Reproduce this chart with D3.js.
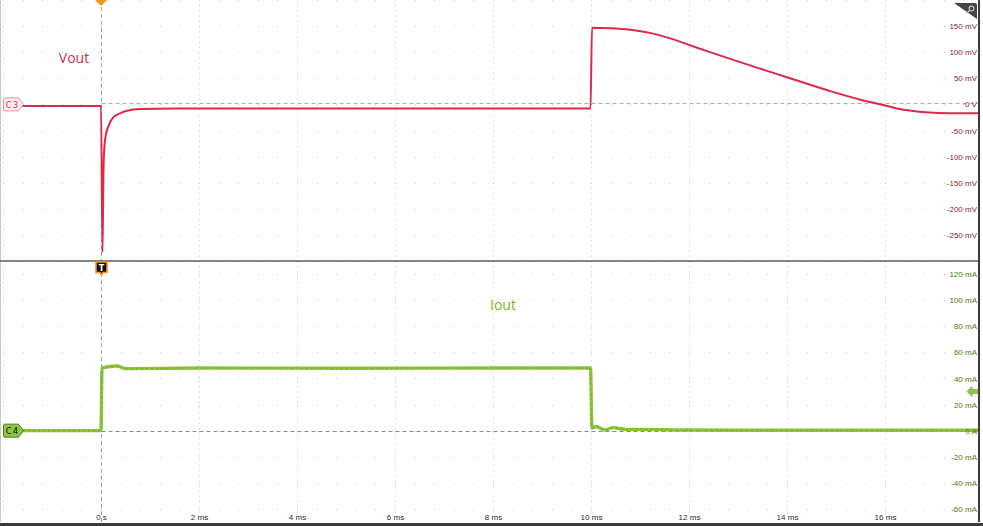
<!DOCTYPE html>
<html>
<head>
<meta charset="utf-8">
<script src="https://cdn.jsdelivr.net/npm/d3@7"></script>
<style>
body { margin: 0; background: #fff; }
svg { display: block; }
.tick text { font-family: "Liberation Sans", Arial, sans-serif; font-size: 8px; }
.label { font-family: "Open Sans", "Noto Sans", sans-serif; font-size: 14px; }
</style>
</head>
<body>
<div class="container"></div>
<script>
// C3 (Vout) trace, time in ms, value in mV
var voutTime = [-2, -1, 0, 0.03, 0.05, 0.07, 0.1, 0.15, 0.24, 0.39, 0.53, 0.8, 1.5, 3, 6, 9.99,
    10.02, 10.4, 10.8, 11.2, 11.6, 12, 12.4, 13.4, 14, 14.9, 15.5, 16, 16.3, 16.7, 17.1, 17.5, 18];
var voutMv = [-3, -3, -3, -283, -130, -80, -58, -42, -26, -17, -12, -9, -8, -8, -8, -8,
    147, 146, 143, 137, 127, 114, 101, 70, 52, 25, 9, -2, -9, -14, -16.5, -17, -17];

// C4 (Iout) trace, time in ms, value in mA
var ioutTime = [-2, 0, 0.02, 0.33, 0.5, 2, 5, 8, 9.99, 10.02, 10.1, 10.29, 10.45, 10.7, 11, 12, 14, 18];
var ioutMa = [0, 0, 48, 49.5, 47.5, 48, 47.8, 48, 48, 2, 3.2, 0.5, 2.3, 1, 1, 0.5, 0.3, 0.3];

var timeTicks = [0, 2, 4, 6, 8, 10, 12, 14, 16];
var voltTicks = [150, 100, 50, 0, -50, -100, -150, -200, -250];
var currentTicks = [120, 100, 80, 60, 40, 20, 0, -20, -40, -60];
var triggerLevel = 30; // mA

var width = 983;
var height = 526;
var screenRight = 979;
var screenBottom = 522;
var divider = 261;

var XScale = d3.scaleLinear().domain([-2, 18]).range([3, 983]);
var VScale = d3.scaleLinear().domain([-300, 200]).range([divider, 0]);
var IScale = d3.scaleLinear().domain([-70, 130]).range([screenBottom, divider]);

var voutLine = d3.line()
    .x(function(d, i) { return XScale(voutTime[i]); })
    .y(function(d) { return VScale(d); })
    .curve(d3.curveMonotoneX);

var ioutLine = d3.line()
    .x(function(d, i) { return XScale(ioutTime[i]); })
    .y(function(d) { return IScale(d); })
    .curve(d3.curveMonotoneX);

var translate = function(x, y) {
    return 'translate(' + x + ',' + y + ')';
};

var svg = d3.select('.container').append('svg')
    .attr('width', width)
    .attr('height', height);

svg.append('clipPath').attr('id', 'screen')
    .append('rect').attr('x', 0).attr('y', 0)
    .attr('width', screenRight).attr('height', screenBottom);

// grid: minor dots on each division row, dense dots on major columns
var grid = svg.append('g').attr('clip-path', 'url(#screen)');
var minorX = d3.range(0, 51).map(function(k) { return -2 + k * 0.4; });
var rowsY = d3.range(-300, 201, 50).map(VScale)
    .concat(d3.range(-60, 121, 20).map(IScale));

rowsY.forEach(function(y) {
    grid.selectAll(null).data(minorX).enter().append('rect')
        .attr('x', function(d) { return Math.round(XScale(d)); })
        .attr('y', Math.round(y))
        .attr('width', 1).attr('height', 1)
        .attr('fill', '#c4c4c4');
});

grid.selectAll('.major').data(d3.range(-2, 18, 2).filter(function(d) { return d !== 0; }))
    .enter().append('line')
    .attr('x1', function(d) { return Math.round(XScale(d)) + 0.5; })
    .attr('x2', function(d) { return Math.round(XScale(d)) + 0.5; })
    .attr('y1', 0).attr('y2', screenBottom - 8)
    .attr('stroke', '#c8c8c8')
    .attr('stroke-dasharray', '1,4.22');

// channel offset and trigger reference lines
var x0 = Math.round(XScale(0)) + 0.5;
grid.append('line')
    .attr('x1', x0).attr('x2', screenRight)
    .attr('y1', Math.round(VScale(0)) - 0.5).attr('y2', Math.round(VScale(0)) - 0.5)
    .attr('stroke', '#b0b0b0').attr('stroke-dasharray', '4,3');
grid.append('line')
    .attr('x1', x0).attr('x2', screenRight)
    .attr('y1', Math.round(IScale(0)) + 0.5).attr('y2', Math.round(IScale(0)) + 0.5)
    .attr('stroke', '#8a8a8a').attr('stroke-dasharray', '4,3');
grid.append('line')
    .attr('x1', x0).attr('x2', x0)
    .attr('y1', 0).attr('y2', screenBottom)
    .attr('stroke', '#a0a0a0').attr('stroke-dasharray', '4,3');

// traces
var traces = svg.append('g').attr('clip-path', 'url(#screen)');
traces.append('path')
    .attr('d', voutLine(voutMv))
    .attr('fill', 'none')
    .attr('stroke', '#e0284a')
    .attr('stroke-width', 2)
    .attr('stroke-linejoin', 'round');
traces.append('path')
    .attr('d', ioutLine(ioutMa))
    .attr('fill', 'none')
    .attr('stroke', '#8cc43c')
    .attr('stroke-width', 3.4)
    .attr('stroke-linejoin', 'round');
traces.append('path')
    .attr('d', ioutLine(ioutMa))
    .attr('fill', 'none')
    .attr('stroke', '#6f9f2c')
    .attr('stroke-width', 0.8)
    .attr('stroke-dasharray', '2,3');

// axes (labels sit inside the screen)
var vAxis = d3.axisLeft(VScale).tickValues(voltTicks).tickSize(0).tickPadding(2)
    .tickFormat(function(d) { return d === 0 ? '0 V' : d + ' mV'; });
var iAxis = d3.axisLeft(IScale).tickValues(currentTicks).tickSize(0).tickPadding(2)
    .tickFormat(function(d) { return d === 0 ? '0 A' : d + ' mA'; });
var tAxis = d3.axisTop(XScale).tickValues(timeTicks).tickSize(0).tickPadding(2)
    .tickFormat(function(d) { return d === 0 ? '0 s' : d + ' ms'; });

svg.append('g').attr('transform', translate(screenRight, 0)).call(vAxis)
    .call(function(g) { g.select('.domain').remove(); })
    .selectAll('text').attr('fill', '#8a1c30');
svg.append('g').attr('transform', translate(screenRight, 0)).call(iAxis)
    .call(function(g) { g.select('.domain').remove(); })
    .selectAll('text').attr('fill', '#4c7c12');
svg.append('g').attr('transform', translate(0, screenBottom)).call(tAxis)
    .call(function(g) { g.select('.domain').remove(); })
    .selectAll('text').attr('fill', '#2a2a2a');

// frame
svg.append('line').attr('x1', 0.5).attr('x2', 0.5).attr('y1', 0).attr('y2', screenBottom)
    .attr('stroke', '#c8c8c8');
svg.append('line').attr('x1', 0).attr('x2', screenRight).attr('y1', divider).attr('y2', divider)
    .attr('stroke', '#5a5a5a').attr('stroke-width', 1.5);
svg.append('rect').attr('x', screenRight - 1).attr('y', 0).attr('width', 2).attr('height', screenBottom)
    .attr('fill', '#3c3c3c');
svg.append('rect').attr('x', 0).attr('y', screenBottom + 1).attr('width', width).attr('height', 4)
    .attr('fill', '#3a3a3a');

// trigger position marker at top
var tx = XScale(0);
svg.append('path')
    .attr('d', 'M' + (tx - 6) + ',0L' + (tx + 6) + ',0L' + tx + ',6Z')
    .attr('fill', '#f7941d');

// "T" marker under the divider
var tm = svg.append('g').attr('transform', translate(Math.round(tx) + 0.5, divider + 1));
tm.append('path')
    .attr('d', 'M-5.5,0H5.5V10.5H1.5L0,13L-1.5,10.5H-5.5Z')
    .attr('fill', '#111').attr('stroke', '#f7941d').attr('stroke-width', 1.6);
tm.append('text').attr('x', 0).attr('y', 8.5).attr('text-anchor', 'middle')
    .attr('font-family', 'DejaVu Sans, sans-serif').attr('font-size', 8).attr('font-weight', 'bold')
    .attr('fill', '#fff').text('T');

// channel tags
var tag = function(y, fill, stroke, textFill, label) {
    var g = svg.append('g').attr('transform', translate(0, y));
    g.append('path')
        .attr('d', 'M5,-6.5H18.5L23.5,0L18.5,6.5H5Q3.5,6.5 3.5,5V-5Q3.5,-6.5 5,-6.5Z')
        .attr('fill', fill).attr('stroke', stroke).attr('stroke-width', 1);
    g.append('text').attr('x', 12.5).attr('y', 3.3).attr('text-anchor', 'middle')
        .attr('font-family', 'DejaVu Sans, sans-serif').attr('font-size', 8.5)
        .attr('letter-spacing', 1.2).attr('fill', textFill).text(label);
};
tag(VScale(0), '#fdeef1', '#ec8fa2', '#d8304e', 'C3');
tag(IScale(0), '#8dc63f', '#4f7f1a', '#111', 'C4');

// trigger level arrow (right edge, bottom panel)
var ty = IScale(triggerLevel);
svg.append('path')
    .attr('d', 'M967,' + ty + 'L972,' + (ty - 5) + 'V' + (ty - 2) + 'H978V' + (ty + 2) + 'H972V' + (ty + 5) + 'Z')
    .attr('fill', '#8dc63f').attr('stroke', '#6f9f2c').attr('stroke-width', 0.6);

// zoom corner icon
svg.append('path')
    .attr('d', 'M954,3H975Q977,3 977,5V19Z')
    .attr('fill', '#454545');
svg.append('circle').attr('cx', 971.5).attr('cy', 8.5).attr('r', 2.4)
    .attr('fill', 'none').attr('stroke', '#c4c4c4').attr('stroke-width', 1.1);
svg.append('line').attr('x1', 969.7).attr('y1', 10.3).attr('x2', 966.5).attr('y2', 13.5)
    .attr('stroke', '#c4c4c4').attr('stroke-width', 1.3);

// channel names
svg.append('text').attr('class', 'label').attr('x', 74).attr('y', 63)
    .attr('text-anchor', 'middle').attr('fill', '#d0304c').text('Vout');
svg.append('text').attr('class', 'label').attr('x', 503).attr('y', 310)
    .attr('text-anchor', 'middle').attr('fill', '#7ab51d').text('Iout');
</script>
</body>
</html>
